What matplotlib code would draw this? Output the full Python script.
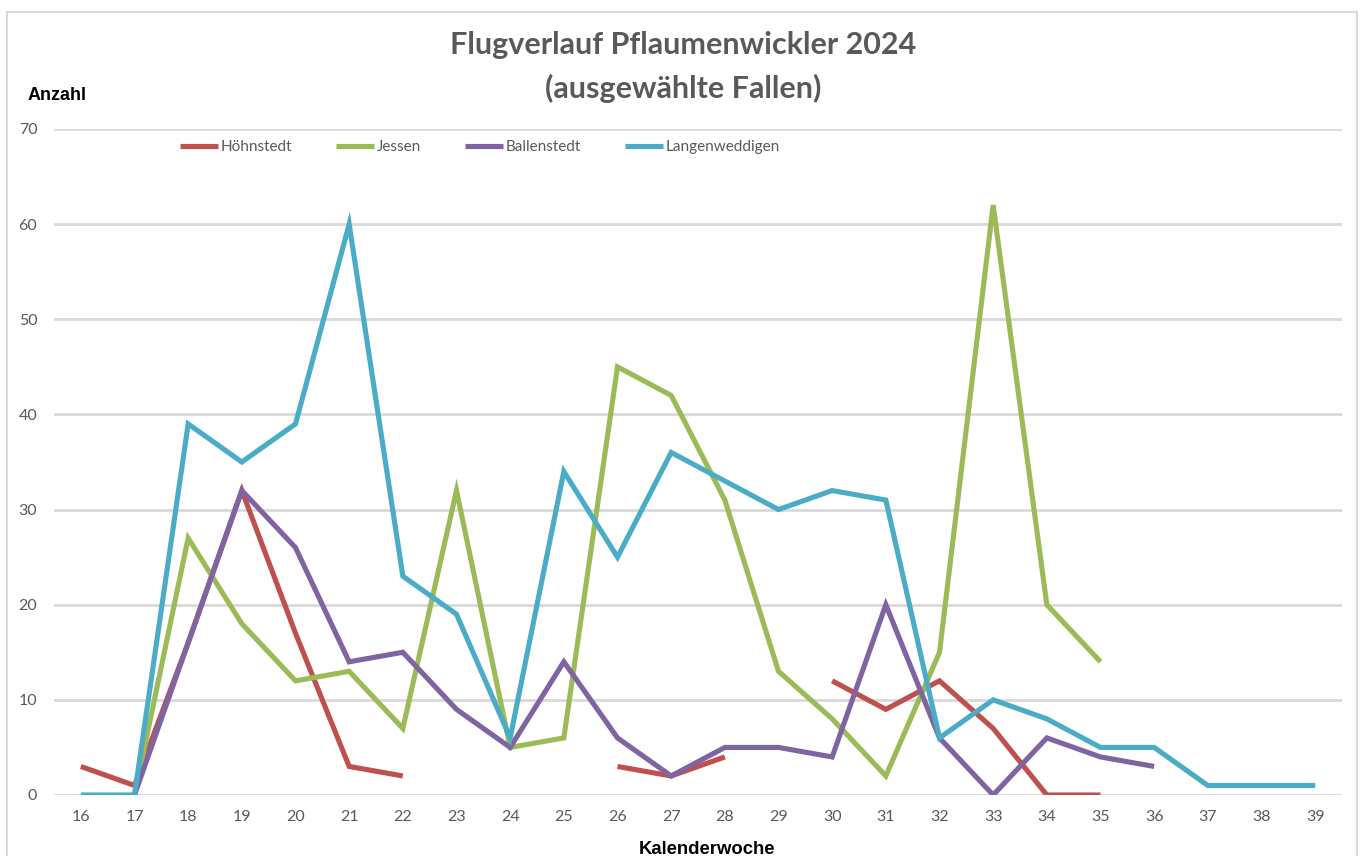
import numpy as np
import matplotlib
matplotlib.use('Agg')
import matplotlib.pyplot as plt

nan = np.nan

# Kalenderwochen
weeks = list(range(16, 40))

hoehnstedt = [3, 1, 16, 32, 17, 3, 2, nan, nan, nan, 3, 2, 4, nan,
              12, 9, 12, 7, 0, 0, nan, nan, nan, nan]
jessen = [nan, 0, 27, 18, 12, 13, 7, 32, 5, 6, 45, 42, 31, 13,
          8, 2, 15, 62, 20, 14, nan, nan, nan, nan]
ballenstedt = [nan, 0, 16, 32, 26, 14, 15, 9, 5, 14, 6, 2, 5, 5,
               4, 20, 6, 0, 6, 4, 3, nan, nan, nan]
langenweddigen = [0, 0, 39, 35, 39, 60, 23, 19, 6, 34, 25, 36, 33, 30,
                  32, 31, 6, 10, 8, 5, 5, 1, 1, 1]

series = [
    ('Höhnstedt', hoehnstedt, '#C0504D'),
    ('Jessen', jessen, '#9BBB59'),
    ('Ballenstedt', ballenstedt, '#8064A2'),
    ('Langenweddigen', langenweddigen, '#4BACC6'),
]

plt.rcParams['font.family'] = ['Lato', 'DejaVu Sans']

fig = plt.figure(figsize=(13.63, 8.56), dpi=100)
ax = fig.add_axes([54 / 1363, 61 / 856, 1288 / 1363, 666 / 856])

x = np.arange(len(weeks))
for name, vals, col in series:
    ax.plot(x, np.array(vals, dtype=float), color=col, lw=3.7, label=name,
            solid_joinstyle='miter', solid_capstyle='butt')

ax.set_xlim(-0.5, len(weeks) - 0.5)
ax.set_ylim(0, 70)
ax.set_yticks(range(0, 71, 10))
ax.set_xticks(x)
ax.set_xticklabels([str(w) for w in weeks])
ax.tick_params(length=0, labelsize=11.5, labelcolor='#595959')
ax.tick_params(axis='x', pad=11)
ax.tick_params(axis='y', pad=12)
ax.grid(axis='y', color='#D9D9D9', lw=2)
ax.set_axisbelow(True)
for s in ax.spines.values():
    s.set_visible(False)

fig.text(0.501, 0.947, 'Flugverlauf Pflaumenwickler 2024', ha='center', va='center',
         fontsize=22, fontweight='bold', color='#595959')
fig.text(0.501, 0.897, '(ausgewählte Fallen)', ha='center', va='center',
         fontsize=22, fontweight='bold', color='#595959')
fig.text(28 / 1363, 1 - 95 / 856, 'Anzahl', ha='left', va='center',
         fontsize=13, fontweight='bold', color='black', family='Liberation Sans')
fig.text(707 / 1363, 1 - 849 / 856, 'Kalenderwoche', ha='center', va='center',
         fontsize=13.3, fontweight='bold', color='black', family='Liberation Sans')

leg = ax.legend(loc='center left', bbox_to_anchor=(166 / 1363, 1 - 147 / 856),
                bbox_transform=fig.transFigure, ncol=4, frameon=False,
                fontsize=11, handlelength=2.5, handletextpad=0.15,
                columnspacing=2.9)
for t in leg.get_texts():
    t.set_color('#595959')

# Rahmen des Diagramms
fig.add_artist(plt.Rectangle((7 / 1363, -0.05), 1350 / 1363, 1.05 - 12 / 856,
                             transform=fig.transFigure, fill=False,
                             edgecolor='#D9D9D9', lw=1.5))

fig.savefig('out.png', dpi=100, facecolor='white')
